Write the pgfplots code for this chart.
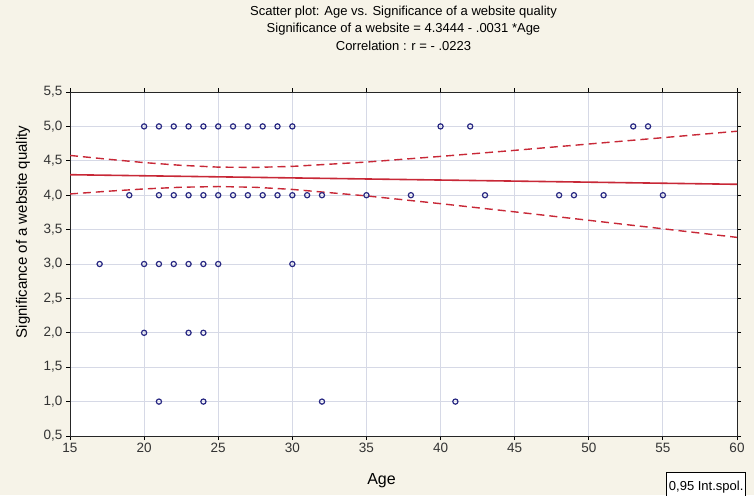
\documentclass[border=0pt]{standalone}
\usepackage{fontspec}
\setmainfont{Liberation Sans}
\usepackage{pgfplots}
\pgfplotsset{compat=1.18}
\definecolor{bg}{RGB}{246,243,232}
\definecolor{ptc}{RGB}{40,40,130}
\definecolor{regc}{RGB}{200,40,55}
\definecolor{gridc}{RGB}{214,217,230}
\begin{document}
\begin{tikzpicture}[x=1pt,y=1pt]
\clip (0,0) rectangle (754,495);
\fill[bg] (0,0) rectangle (754,495);
\begin{axis}[
  at={(70pt,59pt)}, anchor=south west,
  width=667pt, height=344pt, scale only axis,
  xmin=15, xmax=60, ymin=0.5, ymax=5.5,
  xtick={15,20,...,60},
  ytick={0.5,1.0,1.5,2.0,2.5,3.0,3.5,4.0,4.5,5.0,5.5},
  axis background/.style={fill=white},
  grid=major, major grid style={gridc, line width=0.8pt},
  tick align=outside, major tick length=4pt,
  tick style={black, line width=0.8pt},
  axis line style={black!85, line width=1pt},
  tick label style={font=\fontsize{13.5}{15}\selectfont, text=black!80},
  /pgf/number format/assume math mode=true,
  yticklabel style={/pgf/number format/.cd, fixed, fixed zerofill, precision=1, use comma, assume math mode=true},
  xticklabel style={/pgf/number format/.cd, fixed, precision=0, assume math mode=true},
  clip=true,
]
% confidence bands
\addplot[regc, line width=1.4pt, dash pattern=on 8pt off 5pt] coordinates {
(15,4.578) (17.5,4.524) (20,4.474) (22.5,4.434) (25,4.408) (27.5,4.404) (30,4.419)
(35,4.482) (40,4.564) (45,4.652) (50,4.744) (55,4.836) (60,4.930)};
\addplot[regc, line width=1.4pt, dash pattern=on 8pt off 5pt] coordinates {
(15,4.018) (17.5,4.057) (20,4.091) (22.5,4.116) (25,4.126) (27.5,4.115) (30,4.084)
(35,3.990) (40,3.877) (45,3.758) (50,3.635) (55,3.512) (60,3.387)};
% regression line
\addplot[regc, line width=1.6pt] coordinates {(15,4.2979) (60,4.1584)};
% data
\addplot[only marks, mark=o, mark size=2.6pt, ptc, mark options={line width=1.2pt}] coordinates {
(20,5) (21,5) (22,5) (23,5) (24,5) (25,5) (26,5) (27,5) (28,5) (29,5) (30,5)
(40,5) (42,5) (53,5) (54,5)
(19,4) (21,4) (22,4) (23,4) (24,4) (25,4) (26,4) (27,4) (28,4) (29,4) (30,4)
(31,4) (32,4) (35,4) (38,4) (43,4) (48,4) (49,4) (51,4) (55,4)
(17,3) (20,3) (21,3) (22,3) (23,3) (24,3) (25,3) (30,3)
(20,2) (23,2) (24,2)
(21,1) (24,1) (32,1) (41,1)};
\end{axis}
\node[font=\fontsize{13}{15}\selectfont] at (403.5,483) {Scatter plot: Age vs. Significance of a website quality};
\node[font=\fontsize{13}{15}\selectfont] at (403.5,466) {Significance of a website = 4.3444 - .0031 *Age};
\node[font=\fontsize{13}{15}\selectfont] at (403.5,449) {Correlation : r = - .0223};
\node[font=\fontsize{15}{17}\selectfont, rotate=90] at (23,263) {Significance of a website quality};
\node[font=\fontsize{16}{18}\selectfont] at (381.5,14) {Age};
\node[draw=black, line width=0.9pt, fill=white, anchor=north west, inner sep=2.5pt, minimum height=26pt, text depth=0pt, font=\fontsize{13}{15}\selectfont] at (666,23) {0,95 Int.spol.};
\end{tikzpicture}
\end{document}
